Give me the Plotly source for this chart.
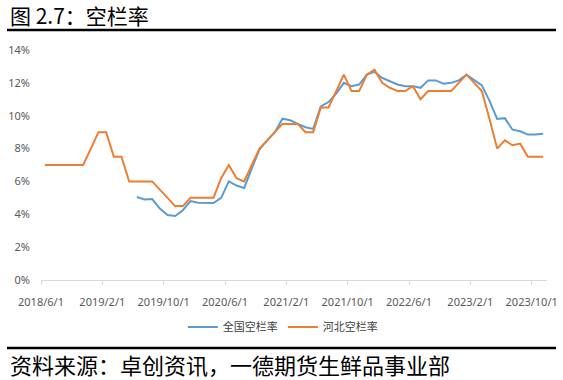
import plotly.graph_objects as go
import pandas as pd

# Monthly categories 2018/6/1 .. 2023/11/1
months = [f"{d.year}/{d.month}/1" for d in pd.date_range("2018-06-01", "2023-11-01", freq="MS")]

national = [None, None, None, None, None, None, None, None, None, None, None, None,
            5.05, 4.9, 4.93, 4.35, 3.95, 3.9, 4.25, 4.8, 4.7, 4.68, 4.68, 5.0,
            6.0, 5.75, 5.6, 6.8, 7.95, 8.5, 9.0, 9.82, 9.72, 9.5, 9.3, 9.2,
            10.57, 10.83, 11.34, 12.0, 11.8, 11.9, 12.5, 12.67, 12.3, 12.1, 11.9, 11.8,
            11.8, 11.7, 12.15, 12.15, 11.95, 12.0, 12.15, 12.5, 12.15, 11.85, 10.9, 9.8,
            9.85, 9.15, 9.05, 8.85, 8.85, 8.9]

hebei = [7, 7, 7, 7, 7, 7, 8, 9, 9, 7.5, 7.5, 6,
         6, 6, 6, 5.5, 5.0, 4.5, 4.5, 5, 5, 5, 5, 6.2,
         7.0, 6.2, 6.0, 7.0, 8.0, 8.5, 9.0, 9.5, 9.5, 9.5, 9.0, 9.0,
         10.5, 10.5, 11.5, 12.5, 11.5, 11.5, 12.5, 12.8, 12.0, 11.7, 11.5, 11.5,
         11.8, 11.0, 11.5, 11.5, 11.5, 11.5, 12.0, 12.5, 12.0, 11.5, 9.8, 8.0,
         8.5, 8.2, 8.3, 7.5, 7.5, 7.5]

series_names = ["全国空栏率", "河北空栏率"]
y_ticks = [0, 2, 4, 6, 8, 10, 12, 14]
tick_every = 8

n = len(months)
xi = list(range(n))
tick_idx = list(range(0, n, tick_every))

CJK = "Noto Sans CJK SC"

fig = go.Figure()
fig.add_trace(go.Scatter(x=xi, y=national, name=series_names[0], mode="lines",
                         line=dict(color="#5B9BD5", width=2), connectgaps=False))
fig.add_trace(go.Scatter(x=xi, y=hebei, name=series_names[1], mode="lines",
                         line=dict(color="#ED7D31", width=2)))

fig.update_layout(
    width=563, height=380,
    margin=dict(l=41, r=16, t=50, b=100),
    paper_bgcolor="white", plot_bgcolor="white",
    font=dict(family=CJK, size=11, color="#595959"),
    showlegend=True,
    legend=dict(orientation="h", x=0.478, xanchor="center", y=-0.204, yanchor="middle",
                font=dict(family=CJK, size=11, color="#404040"),
                itemwidth=30, bgcolor="rgba(0,0,0,0)"),
    xaxis=dict(range=[-0.5, n - 0.5], tickmode="array",
               tickvals=[i - 0.5 for i in tick_idx],
               ticktext=[months[i] for i in tick_idx],
               showgrid=False, zeroline=False, showline=True, linecolor="#D9D9D9", linewidth=1,
               ticks="outside", ticklen=4, tickcolor="#D9D9D9",
               tickfont=dict(family="Noto Sans", size=11, color="#595959"),
               ticklabelstandoff=8, automargin=False),
    yaxis=dict(range=[0, 14], tickmode="array", tickvals=y_ticks,
               ticktext=[f"{v}%" for v in y_ticks],
               showgrid=False, zeroline=False, showline=False, ticks="",
               tickfont=dict(family="Noto Sans", size=11, color="#595959"),
               ticklabelstandoff=10, automargin=False),
)

# title, rules, and source note
fig.add_annotation(text="图 2.7：空栏率", xref="paper", yref="paper", x=-0.0652, y=1.1543,
                   xanchor="left", yanchor="middle", showarrow=False,
                   font=dict(family=CJK, size=21, color="#000000"))
fig.add_annotation(text="资料来源：卓创资讯，一德期货生鲜品事业部", xref="paper", yref="paper",
                   x=-0.0652, y=-0.365, xanchor="left", yanchor="middle", showarrow=False,
                   font=dict(family=CJK, size=22, color="#000000"))
fig.add_shape(type="line", xref="paper", yref="paper", x0=-0.0672, x1=1.018, y0=1.087, y1=1.087,
              line=dict(color="black", width=2.5))
fig.add_shape(type="line", xref="paper", yref="paper", x0=-0.0672, x1=1.018, y0=-0.296, y1=-0.296,
              line=dict(color="black", width=2.5))

fig.write_html("out.html", config={"displayModeBar": False},
               post_script="document.body.style.margin='0';")
